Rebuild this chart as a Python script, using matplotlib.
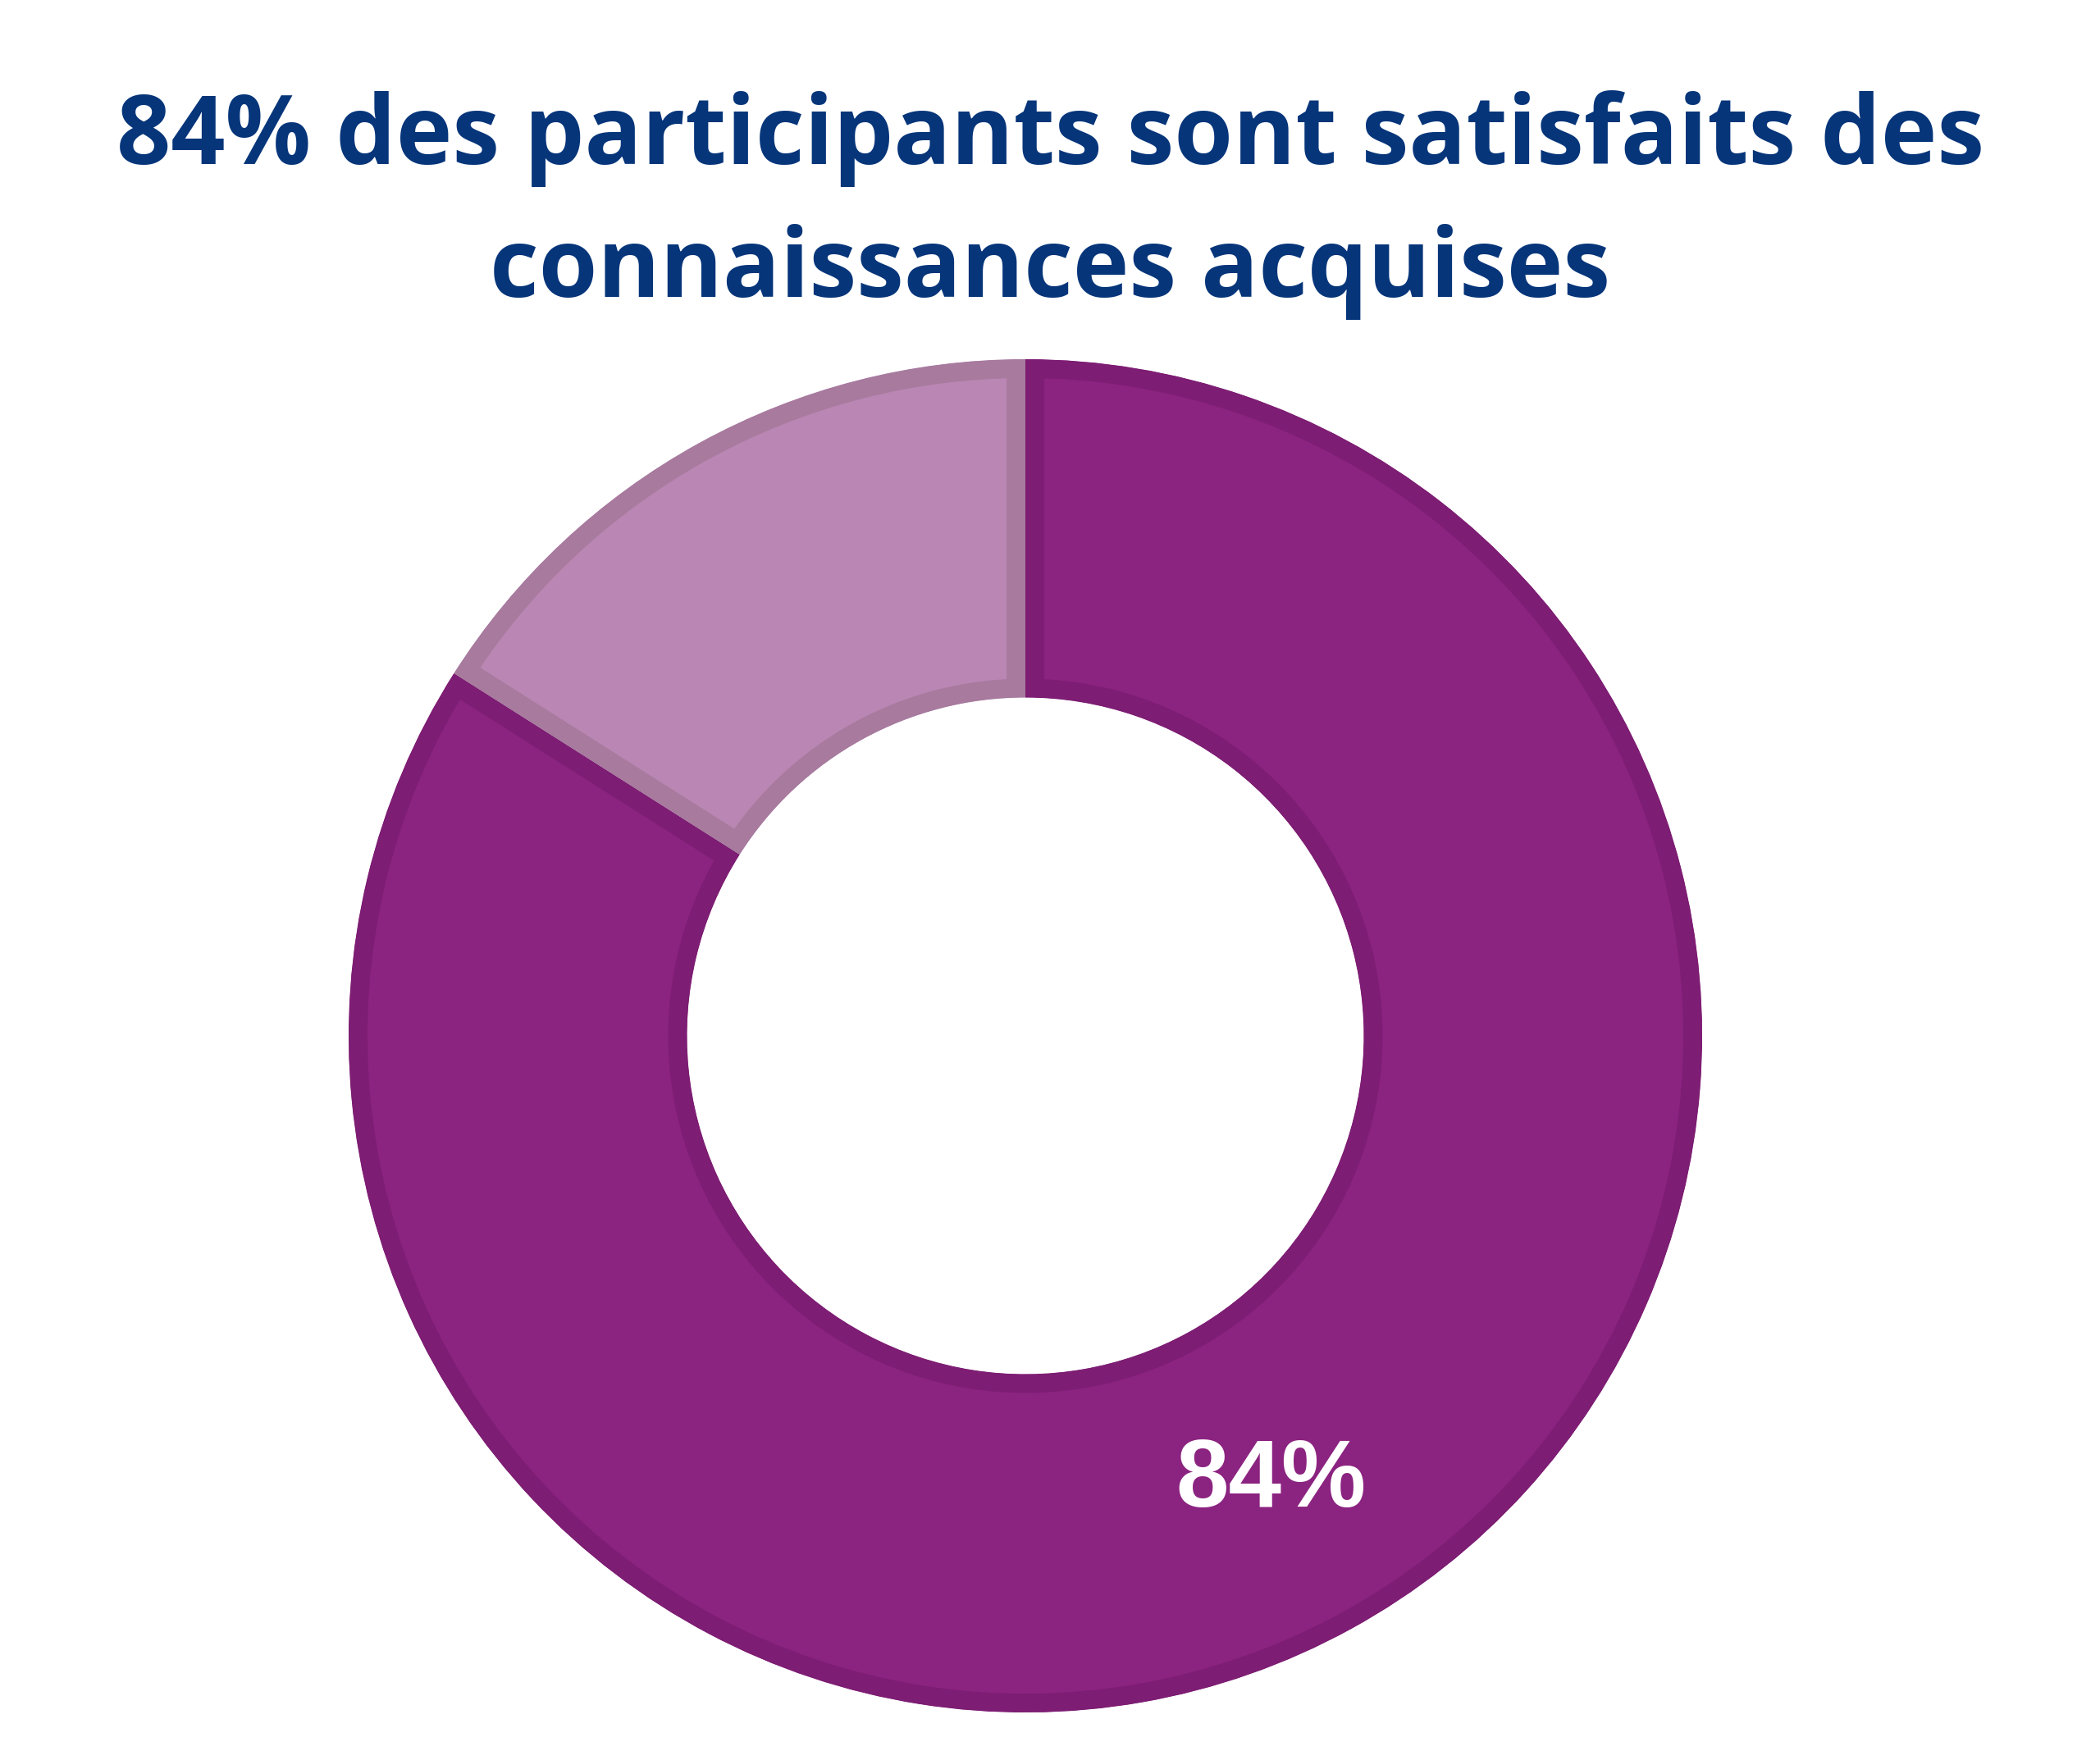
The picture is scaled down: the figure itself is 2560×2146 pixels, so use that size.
import matplotlib
matplotlib.use("Agg")
import matplotlib.pyplot as plt
import numpy as np

# data
labels = ["Satisfaits", "Non satisfaits"]
values = [84, 16]
colors = ["#8b2380", "#ba86b3"]
edge_colors = ["#7d1d73", "#a77a9e"]
title_lines = ["84% des participants sont satisfaits des", "connaissances acquises"]

W, H = 2560, 2146
fig = plt.figure(figsize=(W / 100, H / 100), dpi=100)

# title, two centred lines
fig.text(0.5, 1 - 200 / H, title_lines[0], ha="center", va="baseline",
         fontsize=83.5, fontweight="bold", family="Open Sans", color="#06357a")
fig.text(0.5, 1 - 362 / H, title_lines[1], ha="center", va="baseline",
         fontsize=83.5, fontweight="bold", family="Open Sans", color="#06357a")

# donut axes: centre (1250, 1263) px, radius 825 px
cx, cy, r = 1250, 1263, 825
ax = fig.add_axes([(cx - r) / W, (H - cy - r) / H, 2 * r / W, 2 * r / H])
wedges, _ = ax.pie(values, colors=colors, startangle=90, counterclock=False,
                   radius=1, wedgeprops=dict(width=0.5))
ax.set_xlim(-1, 1)
ax.set_ylim(-1, 1)
ax.set_aspect("equal")
ax.axis("off")

# edges drawn only inside each wedge: stroke twice as wide, clipped to the wedge
for w, ec in zip(wedges, edge_colors):
    w.set_edgecolor(ec)
    w.set_linewidth(33)
    w.set_clip_path(w.get_path(), ax.transData)
    w.set_clip_on(True)

# label in the middle of the big wedge
theta = np.deg2rad(90 - values[0] / sum(values) * 360 / 2)
rr = 0.752
ax.text(rr * np.cos(theta), rr * np.sin(theta), f"{values[0]}%",
        ha="center", va="center", color="white", fontsize=83.5,
        fontweight="bold", family="Liberation Sans")

fig.savefig("out.png", dpi=100, facecolor="white")
